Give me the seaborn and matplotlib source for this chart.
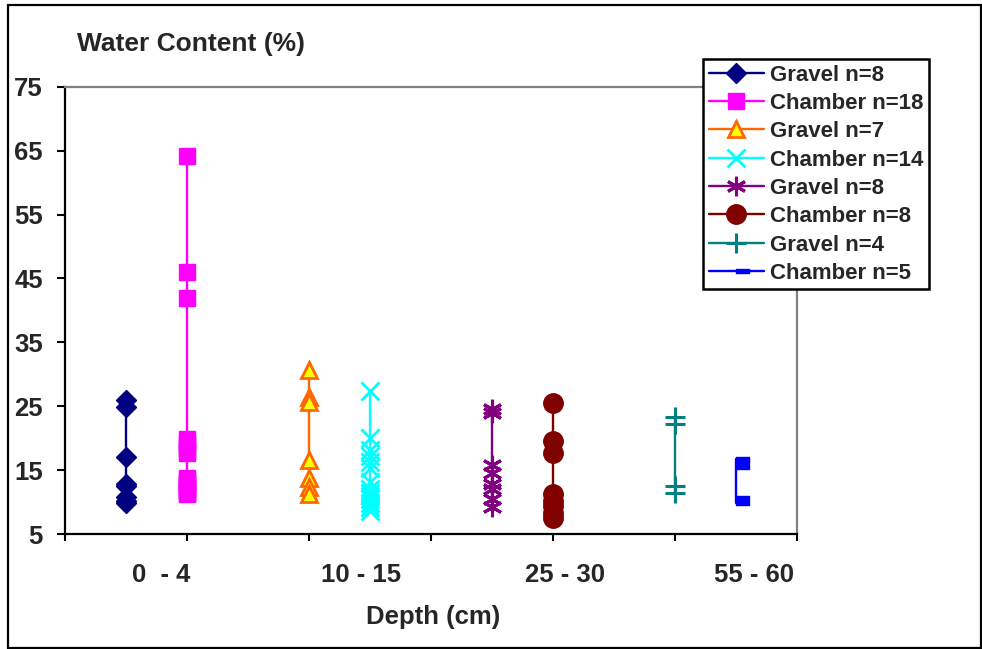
import matplotlib
matplotlib.use("Agg")
import matplotlib.pyplot as plt
import seaborn as sns
import pandas as pd
import numpy as np
from matplotlib.path import Path
from matplotlib.patches import Rectangle

# ---- data ----
series_labels = ["Gravel n=8", "Chamber n=18", "Gravel n=7", "Chamber n=14",
                 "Gravel n=8 ", "Chamber n=8", "Gravel n=4", "Chamber n=5"]
series_x = [0.5, 1.0, 2.0, 2.5, 3.5, 4.0, 5.0, 5.5]
gravel_0_4 = [26.0, 24.8, 17.0, 12.8, 12.5, 10.8, 10.2, 9.9]
chamber_0_4 = [64.2, 46.0, 41.9, 19.9, 19.3, 18.8, 18.2, 17.7,
               13.7, 13.4, 13.1, 12.8, 12.5, 12.2, 11.9, 11.6, 11.4, 11.2]
gravel_10_15 = [30.6, 26.4, 25.6, 16.6, 13.7, 12.4, 11.3]
chamber_10_15 = [27.4, 20.0, 18.2, 17.2, 16.2, 15.4, 13.2, 12.0,
                 11.4, 11.0, 10.4, 9.8, 9.2, 8.6]
gravel_25_30 = [24.6, 23.9, 15.8, 14.6, 12.8, 12.1, 10.5, 9.2]
chamber_25_30 = [25.5, 19.6, 17.6, 11.2, 10.2, 9.4, 8.3, 7.5]
gravel_55_60 = [23.3, 22.2, 12.5, 11.4]
chamber_55_60 = [16.8, 16.2, 15.5, 10.6, 9.9]
series_values = [gravel_0_4, chamber_0_4, gravel_10_15, chamber_10_15,
                 gravel_25_30, chamber_25_30, gravel_55_60, chamber_55_60]
depth_labels = ["0  - 4", "10 - 15", "25 - 30", "55 - 60"]
depth_label_pos = [0.79, 2.43, 4.1, 5.65]
y_ticks = [5, 15, 25, 35, 45, 55, 65, 75]

# ---- style ----
sns.set_style("white")
plt.rcParams['font.family'] = ['Liberation Sans', 'DejaVu Sans']
plt.rcParams['font.weight'] = 'bold'

dash_marker = Path([(0, -0.16), (1, -0.16), (1, 0.16), (0, 0.16), (0, -0.16)],
                   [Path.MOVETO, Path.LINETO, Path.LINETO, Path.LINETO, Path.CLOSEPOLY])

styles = [
    dict(color="#000080", marker="D", markersize=10, mfc="#000080", mec="#000080", mew=1),
    dict(color="#FF00FF", marker="s", markersize=12, mfc="#FF00FF", mec="#FF00FF", mew=1),
    dict(color="#FF6600", marker="^", markersize=12, mfc="#FFFF00", mec="#FF6600", mew=2),
    dict(color="#00FFFF", marker="x", markersize=13, mfc="#00FFFF", mec="#00FFFF", mew=2),
    dict(color="#800080", marker=(6, 2, 0), markersize=14, mfc="#800080", mec="#800080", mew=2.2),
    dict(color="#800000", marker="o", markersize=14, mfc="#800000", mec="#800000", mew=1),
    dict(color="#008080", marker="+", markersize=15, mfc="#008080", mec="#008080", mew=2.2),
    dict(color="#0000FF", marker=dash_marker, markersize=19, mfc="#0000FF", mec="#0000FF", mew=1),
]

fig = plt.figure(figsize=(9.82, 6.49), dpi=100)
ax = fig.add_axes([65/982, 1-534/649, (797-65)/982, (534-86.7)/649])

for lab, xv, vals, st in zip(series_labels, series_x, series_values, styles):
    df = pd.DataFrame({"x": [xv]*len(vals), "y": vals})
    sns.lineplot(data=df, x="x", y="y", estimator=None, sort=False, ax=ax,
                 color=st["color"], linewidth=1.7, label=lab,
                 marker=st["marker"], markersize=st["markersize"],
                 markerfacecolor=st["mfc"], markeredgecolor=st["mec"],
                 markeredgewidth=st["mew"])

ax.set_xlim(0, 6)
ax.set_ylim(5, 75)
ax.set_yticks(y_ticks)
ax.set_xticks(range(7))
ax.set_xticklabels([])
ax.set_xticks(depth_label_pos, minor=True)
ax.set_xticklabels(depth_labels, minor=True)
ax.tick_params(axis='x', which='major', direction='out', length=5, width=1.5,
               color='black', bottom=True)
ax.tick_params(axis='x', which='minor', length=0, pad=21, labelsize=18.5)
ax.tick_params(axis='y', which='major', direction='out', length=6, width=1.5,
               color='black', left=True, pad=10, labelsize=18.5)
for t in ax.get_xticklabels(minor=True) + ax.get_yticklabels():
    t.set_fontweight('bold')
ax.set_xlabel("")
ax.set_ylabel("")
ax.grid(False)

for side in ['left', 'bottom']:
    ax.spines[side].set_color('black')
    ax.spines[side].set_linewidth(1.6)
for side in ['top', 'right']:
    ax.spines[side].set_color('#808080')
    ax.spines[side].set_linewidth(1.6)

fig.text(77/982, 1-44/649, "Water Content (%)", ha='left', va='center',
         fontsize=19, fontweight='bold')
fig.text(433/982, 1-617/649, "Depth (cm)", ha='center', va='center',
         fontsize=18.5, fontweight='bold')

leg = ax.legend(loc='upper left', bbox_to_anchor=(703/982, 1-59/649),
                bbox_transform=fig.transFigure, frameon=True, fancybox=False,
                handlelength=2.5, handletextpad=0.25,
                labelspacing=0.33, borderpad=0.25, borderaxespad=0,
                prop={'weight': 'bold', 'size': 16})
for t in leg.get_texts():
    t.set_fontweight('bold')
leg.get_frame().set_edgecolor('black')
leg.get_frame().set_linewidth(1.8)
leg.get_frame().set_facecolor('white')
leg.get_frame().set_alpha(1)

border = Rectangle((8/982, 1-648/649), (981-8)/982, (648-5)/649,
                   transform=fig.transFigure, fill=False, edgecolor='black',
                   linewidth=1.6)
fig.patches.append(border)

fig.savefig("out.png", dpi=100)
